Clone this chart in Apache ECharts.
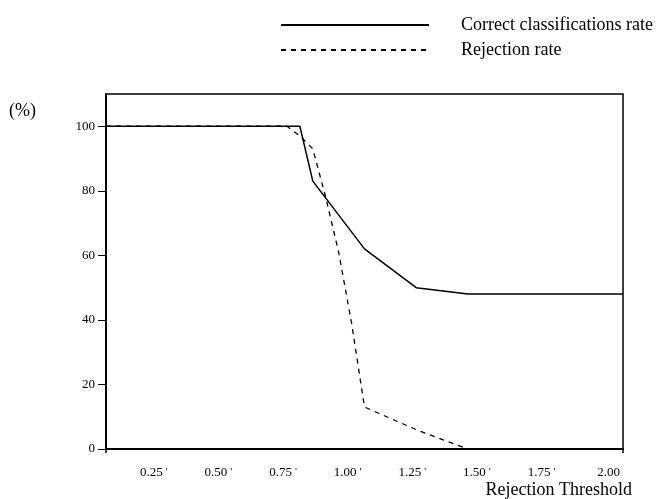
<!DOCTYPE html>
<html>
<head>
<meta charset="utf-8">
<style>
    html, body { margin: 0; padding: 0; background: #fff; }
    #chart { width: 659px; height: 499px; }
</style>
<script src="https://cdn.jsdelivr.net/npm/echarts@6/dist/echarts.min.js"></script>
</head>
<body>
<div id="chart"></div>
<script>
    // data
    const correctX = [0, 0.75, 0.80, 1.00, 1.20, 1.40, 2.00];
    const correctY = [100, 100, 83, 62, 50, 48, 48];
    const rejectX = [0, 0.70, 0.75, 0.80, 0.85, 0.90, 0.95, 1.00, 1.20, 1.40, 2.00];
    const rejectY = [100, 100, 97, 93, 78, 61, 39, 13, 6, 0, 0];
    const yTicks = [0, 20, 40, 60, 80, 100];
    const seriesNames = ['Correct classifications rate', 'Rejection rate'];

    const font = 'Liberation Serif';
    const pair = (xs, ys) => xs.map((x, i) => [x, ys[i]]);

    let chart = echarts.init(document.getElementById('chart'));
    chart.setOption({
        animation: false,
        textStyle: { fontFamily: font, color: '#000' },
        title: {
            text: '(%)',
            left: 9,
            top: 102,
            padding: 0,
            textStyle: { fontFamily: font, fontSize: 18, fontWeight: 'normal', color: '#000' }
        },
        legend: {
            orient: 'vertical',
            left: 280,
            top: 16,
            padding: 0,
            itemWidth: 148,
            itemHeight: 16,
            itemGap: 7,
            data: seriesNames,
            itemStyle: { color: 'transparent', borderColor: 'transparent', borderWidth: 0 },
            textStyle: { fontFamily: font, fontSize: 18, color: '#000', lineHeight: 16, padding: [0, 0, 0, 27] }
        },
        grid: {
            left: 106,
            right: 36,
            top: 94,
            bottom: 50,
            show: true,
            borderColor: '#000',
            borderWidth: 1.5
        },
        xAxis: {
            type: 'value',
            min: 0,
            max: 2,
            interval: 0.25,
            name: 'Rejection Threshold',
            nameLocation: 'end',
            nameGap: 9,
            nameTextStyle: { fontFamily: font, fontSize: 18, color: '#000', align: 'right', verticalAlign: 'top', padding: [32, 0, 0, 0] },
            axisLine: { lineStyle: { color: '#000', width: 2 } },
            axisTick: { show: true, customValues: [0, 2], inside: false, length: 4, lineStyle: { color: '#000', width: 1.5 } },
            splitLine: { show: false },
            axisLabel: {
                margin: 17,
                align: 'right',
                fontFamily: font,
                fontSize: 13,
                color: '#000',
                formatter: function (v) {
                    if (v === 0) return '';
                    if (v === 2) return '{a|2.00}';
                    return '{a|' + v.toFixed(2) + '}{b|\'}';
                },
                rich: {
                    a: { fontFamily: font, fontSize: 13, color: '#000' },
                    b: { fontFamily: font, fontSize: 11, color: '#000', padding: [0, 0, 0, 3] }
                },
                padding: [0, 3, 0, 0]
            }
        },
        yAxis: {
            type: 'value',
            min: 0,
            max: 110,
            axisLine: { show: true, lineStyle: { color: '#000', width: 2 } },
            axisTick: { show: true, customValues: yTicks, length: 8, lineStyle: { color: '#000', width: 1 } },
            splitLine: { show: false },
            axisLabel: {
                customValues: yTicks,
                margin: 11,
                fontFamily: font,
                fontSize: 13,
                color: '#000'
            }
        },
        series: [
            {
                name: seriesNames[0],
                type: 'line',
                symbol: 'none',
                z: 3,
                color: '#000',
                lineStyle: { color: '#000', width: 1.5 },
                data: pair(correctX, correctY)
            },
            {
                name: seriesNames[1],
                type: 'line',
                symbol: 'none',
                z: 2,
                color: '#000',
                lineStyle: { color: '#000', width: 1.3, type: [5, 5] },
                data: pair(rejectX, rejectY)
            }
        ]
    });
</script>
</body>
</html>
